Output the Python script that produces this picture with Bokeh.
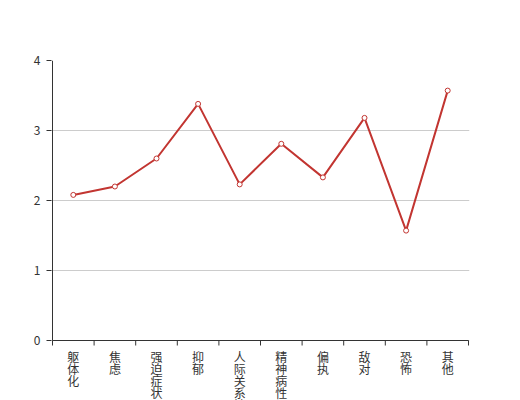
from bokeh.plotting import figure
from bokeh.models import FixedTicker, Range1d
from bokeh.embed import file_html
from bokeh.resources import INLINE
from bokeh.core.properties import value

categories = ["躯体化", "焦虑", "强迫症状", "抑郁", "人际关系敏感", "精神病性", "偏执", "敌对", "恐怖", "其他"]
values = [2.08, 2.20, 2.60, 3.38, 2.23, 2.81, 2.33, 3.18, 1.57, 3.57]
y_ticks = [0, 1, 2, 3, 4]

FONT = "Noto Sans CJK SC"
RED = "#c23531"
AXIS = "#333333"

n = len(categories)
xs = [i + 0.5 for i in range(n)]

W, H = 520, 400
LEFT, RIGHT, TOP = 51, 51, 60
frame_w = W - LEFT - RIGHT
frame_h = H - TOP
# one category band = 41.6 px; pad the range by 1 px on each side so edge lines are not clipped
band = (frame_w - 2) / n
dx = 1 / band
y_top = y_ticks[-1]
px_y = 70.0  # pixels per y unit
y_bottom = y_top - frame_h / px_y

p = figure(width=W, height=H, output_backend="svg", toolbar_location=None,
           x_range=Range1d(-dx, n + dx), y_range=Range1d(y_bottom, y_top),
           x_axis_location=None,
           min_border_left=LEFT, min_border_right=RIGHT, min_border_top=TOP, min_border_bottom=0)
p.outline_line_color = None
p.background_fill_color = "white"
p.xgrid.grid_line_color = None

# y axis (ticks and labels); its line is drawn below so that it stops at 0
p.yaxis.ticker = FixedTicker(ticks=y_ticks)
p.yaxis.minor_tick_line_color = None
p.yaxis.major_tick_in = 0
p.yaxis.major_tick_out = 5
p.yaxis.major_tick_line_color = AXIS
p.yaxis.axis_line_color = None
p.yaxis.major_label_text_font = FONT
p.yaxis.major_label_text_font_size = "12px"
p.yaxis.major_label_text_color = AXIS
p.yaxis.major_label_standoff = 6
p.ygrid.grid_line_color = "#cccccc"
p.ygrid.ticker = FixedTicker(ticks=y_ticks)

# axis lines
p.segment(x0=[0], y0=[0], x1=[0], y1=[y_top], line_color=AXIS, line_width=1)
p.segment(x0=[0], y0=[0], x1=[n], y1=[0], line_color=AXIS, line_width=1)
# x ticks at category boundaries
bounds = list(range(n + 1))
p.segment(x0=bounds, y0=[0] * len(bounds), x1=bounds, y1=[-5 / px_y] * len(bounds),
          line_color=AXIS, line_width=1)

# line and markers
p.line(xs, values, line_color=RED, line_width=2)
p.scatter(xs, values, size=5, marker="circle", fill_color="white", line_color=RED, line_width=1)

# vertical category labels (one character per row), below the x axis
lx, lt, loff = [], [], []
for i, c in enumerate(categories):
    for j, ch in enumerate(c):
        lx.append(xs[i])
        lt.append(ch)
        loff.append(7 + 12 * j)
p.text(x=lx, y=[0] * len(lx), text=lt, y_offset=loff,
       text_font=value(FONT), text_font_size="12px", text_color=AXIS,
       text_align="center", text_baseline="top")

open("out.html", "w").write(file_html(p, INLINE))
